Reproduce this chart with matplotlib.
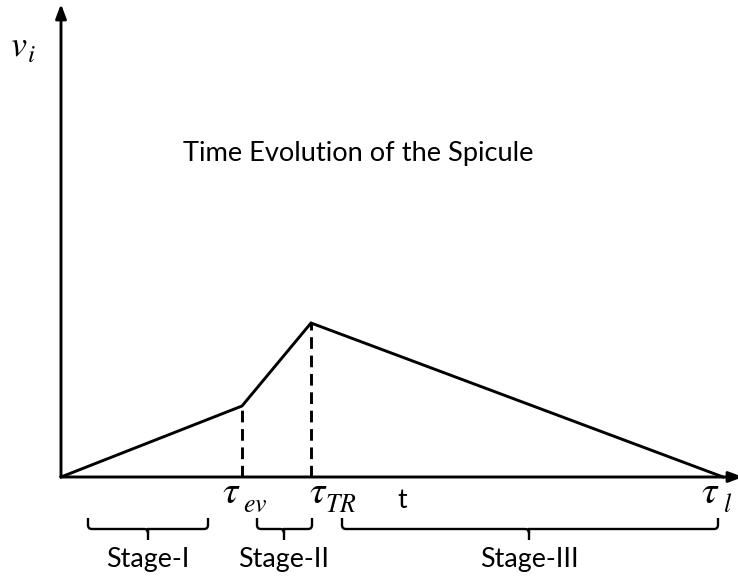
import matplotlib
matplotlib.use("Agg")
import matplotlib.pyplot as plt
from matplotlib.path import Path
from matplotlib.patches import PathPatch

plt.rcParams['mathtext.fontset'] = 'stix'
plt.rcParams['font.family'] = ['Lato', 'DejaVu Sans']

# Data (time, velocity) in arbitrary units
times = [0, 181, 250, 662]
velocity = [0, 71, 154, 0]
time_subscripts = ['ev', 'TR', 'l']
stage_names = ['Stage-I', 'Stage-II', 'Stage-III']
stage_start = [27, 196, 281]
stage_end = [147, 251, 657]
stage_mid = [87, 223, 468]

fig = plt.figure(figsize=(7.38, 5.76), dpi=100)
ax = fig.add_axes([0, 0, 1, 1])
ax.set_xlim(-61, 677)
ax.set_ylim(-99, 477)
ax.axis('off')

lw = 2.1
# axes arrows
ax.annotate('', xy=(0, 473), xytext=(0, 0), annotation_clip=False,
            arrowprops=dict(arrowstyle='-|>,head_width=0.32,head_length=0.85', lw=lw, color='black',
                            shrinkA=0, shrinkB=0))
ax.annotate('', xy=(682, 0), xytext=(0, 0), annotation_clip=False,
            arrowprops=dict(arrowstyle='-|>,head_width=0.32,head_length=0.85', lw=lw, color='black',
                            shrinkA=0, shrinkB=0))

ax.plot(times, velocity, color='black', lw=lw, solid_joinstyle='miter', zorder=3)
for t, v in zip(times[1:3], velocity[1:3]):
    ax.plot([t, t], [0, v], color='black', lw=lw, ls=(0, (4, 2.3)))

# tick labels: tau with large italic subscript
tau_dx = [-20, -2, -22]
sub_dx = [1, 14, 0]
for t, sub, dx, sx in zip(times[1:], time_subscripts, tau_dx, sub_dx):
    ax.text(t + dx, -26, r'$\tau$', fontsize=28, ha='left', va='baseline')
    ax.text(t + sx, -35, r'$' + sub + r'$', fontsize=18.5, ha='left', va='baseline')

ax.text(341, -24, 't', fontsize=19, ha='center', va='center')
ax.text(-51, 422, r'$v$', fontsize=26, ha='left', va='baseline')
ax.text(-34, 415, r'$i$', fontsize=18, ha='left', va='baseline')
ax.text(297, 324, 'Time Evolution of the Spicule', fontsize=19.6, ha='center', va='center')

def brace(x0, x1, xm, ytop, ymid, ybot, r=4):
    verts = [(x0, ytop), (x0, ymid + r), (x0, ymid), (x0 + r, ymid),
             (xm - r, ymid), (xm, ymid), (xm, ymid - r), (xm, ybot),
             (xm, ymid - r), (xm, ymid), (xm + r, ymid),
             (x1 - r, ymid), (x1, ymid), (x1, ymid + r), (x1, ytop)]
    codes = [Path.MOVETO, Path.LINETO, Path.CURVE3, Path.CURVE3,
             Path.LINETO, Path.CURVE3, Path.CURVE3, Path.LINETO,
             Path.MOVETO, Path.LINETO, Path.LINETO,
             Path.LINETO, Path.CURVE3, Path.CURVE3, Path.LINETO]
    ax.add_patch(PathPatch(Path(verts, codes), fill=False, lw=1.7, color='black'))

for s, e, m, name in zip(stage_start, stage_end, stage_mid, stage_names):
    brace(s, e, m, -41, -52, -63)
    ax.text(m, -83, name, fontsize=19.3, ha='center', va='center')

fig.savefig('out.png', dpi=100)
